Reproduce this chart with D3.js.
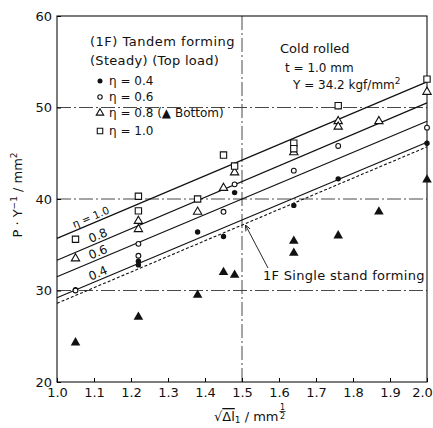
<!DOCTYPE html>
<html>
<head>
<meta charset="utf-8">
<script src="https://cdnjs.cloudflare.com/ajax/libs/d3/7.8.5/d3.min.js"></script>
<style>
  body { margin: 0; background: #fff; }
  svg { display: block; font-family: "DejaVu Sans", sans-serif; }
  text { fill: #111; }
</style>
</head>
<body>
<div id="chart"></div>
<script>
// points, [sqrt(dl), P/Y]
var eta04 = [[1.05,30.1],[1.22,33.2],[1.22,32.8],[1.38,36.4],[1.45,35.9],[1.48,40.7],[1.64,39.3],[1.76,42.2],[2.0,46.1]];
var eta06 = [[1.05,30.0],[1.22,35.1],[1.22,33.8],[1.45,38.6],[1.48,41.6],[1.64,43.1],[1.76,45.8],[2.0,47.8]];
var eta08 = [[1.05,33.5],[1.22,37.6],[1.22,36.7],[1.38,38.6],[1.45,41.2],[1.48,42.9],[1.64,45.1],[1.76,48.5],[1.76,47.9],[1.87,48.5],[2.0,51.7]];
var eta10 = [[1.05,35.6],[1.22,40.3],[1.22,38.7],[1.38,40.0],[1.45,44.8],[1.48,43.6],[1.64,46.1],[1.64,45.5],[1.76,50.2],[2.0,53.1]];
var bottom08 = [[1.05,24.3],[1.22,27.1],[1.38,29.5],[1.45,32.0],[1.48,31.7],[1.64,35.4],[1.64,34.1],[1.76,36.0],[1.87,38.6],[2.0,42.1]];

// fitted lines, values at x = 1.0 and x = 2.0
var lineNames = ["η = 1.0", "0.8", "0.6", "0.4"];
var lineStart = [35.7, 33.3, 31.5, 29.2];
var lineEnd = [52.8, 50.5, 48.5, 46.2];
var singleLine = [28.6, 45.7];

var xTicks = [1.0,1.1,1.2,1.3,1.4,1.5,1.6,1.7,1.8,1.9,2.0];
var yTicks = [20,30,40,50,60];
var gridX = [1.5];
var gridY = [30,40,50];

var margin = {top: 16, right: 6, bottom: 46, left: 57},
    W = 433, H = 428,
    width = W - margin.left - margin.right,
    height = H - margin.top - margin.bottom;

var svg = d3.select("#chart").append("svg")
    .attr("width", W)
    .attr("height", H);

svg.append("defs").append("marker")
    .attr("id", "arr").attr("viewBox", "0 0 10 10")
    .attr("refX", 9).attr("refY", 5)
    .attr("markerWidth", 7).attr("markerHeight", 7)
    .attr("orient", "auto")
  .append("path").attr("d", "M0,1L10,5L0,9").attr("fill", "none")
    .attr("stroke", "#111").attr("stroke-width", 1.4);

var x = d3.scaleLinear().domain([1.0, 2.0]).range([0, width]),
    y = d3.scaleLinear().domain([20, 60]).range([height, 0]);

var g = svg.append("g")
    .attr("transform", "translate(" + margin.left + "," + margin.top + ")");

// dash-dot grid
g.selectAll(".gy").data(gridY).enter().append("line")
    .attr("x1", 0).attr("x2", width)
    .attr("y1", d => y(d)).attr("y2", d => y(d))
    .attr("stroke", "#333").attr("stroke-width", 0.9)
    .attr("stroke-dasharray", "14,3,2,3");
g.selectAll(".gx").data(gridX).enter().append("line")
    .attr("y1", 0).attr("y2", height)
    .attr("x1", d => x(d)).attr("x2", d => x(d))
    .attr("stroke", "#333").attr("stroke-width", 0.9)
    .attr("stroke-dasharray", "14,3,2,3");

// frame
g.append("rect")
    .attr("width", width).attr("height", height)
    .attr("fill", "none").attr("stroke", "#111").attr("stroke-width", 1.1);

// axes
var xAxis = d3.axisBottom(x).tickValues(xTicks).tickSize(-4).tickPadding(6)
    .tickFormat(d3.format(".1f"));
var yAxis = d3.axisLeft(y).tickValues(yTicks).tickSize(-4).tickPadding(5);

g.append("g").attr("transform", "translate(0," + height + ")").call(xAxis)
    .call(s => s.select(".domain").remove())
    .selectAll("text").attr("font-size", 13).attr("font-family", "DejaVu Sans")
    .attr("dx", d => d === 2.0 ? -5 : 0);
g.append("g").call(yAxis)
    .call(s => s.select(".domain").remove())
    .selectAll("text").attr("font-size", 13).attr("font-family", "DejaVu Sans");

// fitted lines
var line = d3.line().x(d => x(d[0])).y(d => y(d[1]));
lineNames.forEach(function(name, i) {
  var pts = [[1.0, lineStart[i]], [2.0, lineEnd[i]]];
  g.append("path").datum(pts).attr("d", line)
      .attr("fill", "none").attr("stroke", "#111").attr("stroke-width", 1.2);

  // label along the line
  var lx = i === 0 ? 1.095 : 1.115;
  var ly = lineStart[i] + (lineEnd[i] - lineStart[i]) * (lx - 1.0);
  var ang = Math.atan2(y(lineEnd[i]) - y(lineStart[i]), x(2.0) - x(1.0)) * 180 / Math.PI;
  g.append("text")
      .attr("transform", "translate(" + x(lx) + "," + (y(ly) - 3) + ") rotate(" + ang + ")")
      .attr("text-anchor", "middle")
      .attr("font-size", i === 0 ? 10.5 : 12)
      .text(name);
});

g.append("path").datum([[1.0, singleLine[0]], [2.0, singleLine[1]]]).attr("d", line)
    .attr("fill", "none").attr("stroke", "#111").attr("stroke-width", 1.1)
    .attr("stroke-dasharray", "3,2");

// markers
var tri = d3.symbol().type(d3.symbolTriangle).size(30);
var sq = d3.symbol().type(d3.symbolSquare).size(40);

g.selectAll(".p04").data(eta04).enter().append("circle")
    .attr("cx", d => x(d[0])).attr("cy", d => y(d[1])).attr("r", 2.7)
    .attr("fill", "#111");
g.selectAll(".p06").data(eta06).enter().append("circle")
    .attr("cx", d => x(d[0])).attr("cy", d => y(d[1])).attr("r", 2.4)
    .attr("fill", "#fff").attr("stroke", "#111").attr("stroke-width", 1.1);
g.selectAll(".p08").data(eta08).enter().append("path")
    .attr("d", tri)
    .attr("transform", d => "translate(" + x(d[0]) + "," + y(d[1]) + ")")
    .attr("fill", "#fff").attr("stroke", "#111").attr("stroke-width", 1.1);
g.selectAll(".p10").data(eta10).enter().append("path")
    .attr("d", sq)
    .attr("transform", d => "translate(" + x(d[0]) + "," + y(d[1]) + ")")
    .attr("fill", "#fff").attr("stroke", "#111").attr("stroke-width", 1.1);
g.selectAll(".pb").data(bottom08).enter().append("path")
    .attr("d", d3.symbol().type(d3.symbolTriangle).size(40))
    .attr("transform", d => "translate(" + x(d[0]) + "," + y(d[1]) + ")")
    .attr("fill", "#111");

// legend
var leg = svg.append("g").attr("font-size", 13);
leg.append("text").attr("x", 90).attr("y", 46).attr("letter-spacing", 0.5).text("(1F)  Tandem forming");
leg.append("text").attr("x", 90).attr("y", 65).attr("letter-spacing", 0.3).text("(Steady) (Top load)");

var legRows = [85, 101, 117, 135];
var symX = 100, txtX = 109;
leg.append("circle").attr("cx", symX).attr("cy", legRows[0] - 4).attr("r", 2.5).attr("fill", "#111");
leg.append("circle").attr("cx", symX).attr("cy", legRows[1] - 4).attr("r", 2.2)
    .attr("fill", "none").attr("stroke", "#111").attr("stroke-width", 1.1);
leg.append("path").attr("d", d3.symbol().type(d3.symbolTriangle).size(24))
    .attr("transform", "translate(" + symX + "," + (legRows[2] - 4) + ")")
    .attr("fill", "none").attr("stroke", "#111").attr("stroke-width", 1.1);
leg.append("path").attr("d", d3.symbol().type(d3.symbolSquare).size(30))
    .attr("transform", "translate(" + symX + "," + (legRows[3] - 4) + ")")
    .attr("fill", "none").attr("stroke", "#111").attr("stroke-width", 1.1);
leg.append("text").attr("x", txtX).attr("y", legRows[0]).attr("font-size", 12).text("η = 0.4");
leg.append("text").attr("x", txtX).attr("y", legRows[1]).attr("font-size", 12).text("η = 0.6");
leg.append("text").attr("x", txtX).attr("y", legRows[2]).attr("font-size", 12).text("η = 0.8 (▲ Bottom)");
leg.append("text").attr("x", txtX).attr("y", legRows[3]).attr("font-size", 12).text("η = 1.0");

// material note
var note = svg.append("g").attr("font-size", 13);
note.append("text").attr("x", 280).attr("y", 53).text("Cold rolled");
note.append("text").attr("x", 285).attr("y", 72).attr("font-size", 12).text("t = 1.0 mm");
var yt = note.append("text").attr("x", 293).attr("y", 89).attr("font-size", 12);
yt.append("tspan").text("Y = 34.2 kgf/mm");
yt.append("tspan").attr("dy", -5).attr("font-size", 9).text("2");

// single stand annotation
var sx = 1.51, sy = singleLine[0] + (singleLine[1] - singleLine[0]) * (sx - 1.0);
svg.append("line")
    .attr("x2", margin.left + x(sx)).attr("y2", margin.top + y(sy) + 2)
    .attr("x1", 268).attr("y1", 268)
    .attr("stroke", "#111").attr("stroke-width", 0.9)
    .attr("marker-end", "url(#arr)");
svg.append("text").attr("x", 263).attr("y", 280).attr("font-size", 13)
    .attr("letter-spacing", 0.3).text("1F Single stand forming");

// y label
svg.append("text")
    .attr("transform", "translate(22,195) rotate(-90)")
    .attr("text-anchor", "middle").attr("font-size", 13)
    .html('P · Y<tspan dy="-5" font-size="9">−1</tspan><tspan dy="5"> / mm</tspan><tspan dy="-5" font-size="9">2</tspan>');

// x label
var xl = svg.append("g").attr("font-size", 13);
var xt = xl.append("text").attr("x", 214).attr("y", 421);
xt.append("tspan").text("√");
xt.append("tspan").attr("text-decoration", "overline").text("Δl");
xt.append("tspan").attr("font-size", 9).attr("dy", 2).text("1");
xt.append("tspan").attr("dy", -2).text(" / mm");
var fx = 214 + xt.node().getComputedTextLength() + 4;
xl.append("text").attr("x", fx).attr("y", 410).attr("font-size", 8).attr("text-anchor", "middle").text("1");
xl.append("line").attr("x1", fx - 3).attr("x2", fx + 3).attr("y1", 411.5).attr("y2", 411.5).attr("stroke", "#111").attr("stroke-width", 0.8);
xl.append("text").attr("x", fx).attr("y", 419).attr("font-size", 8).attr("text-anchor", "middle").text("2");
</script>
</body>
</html>
